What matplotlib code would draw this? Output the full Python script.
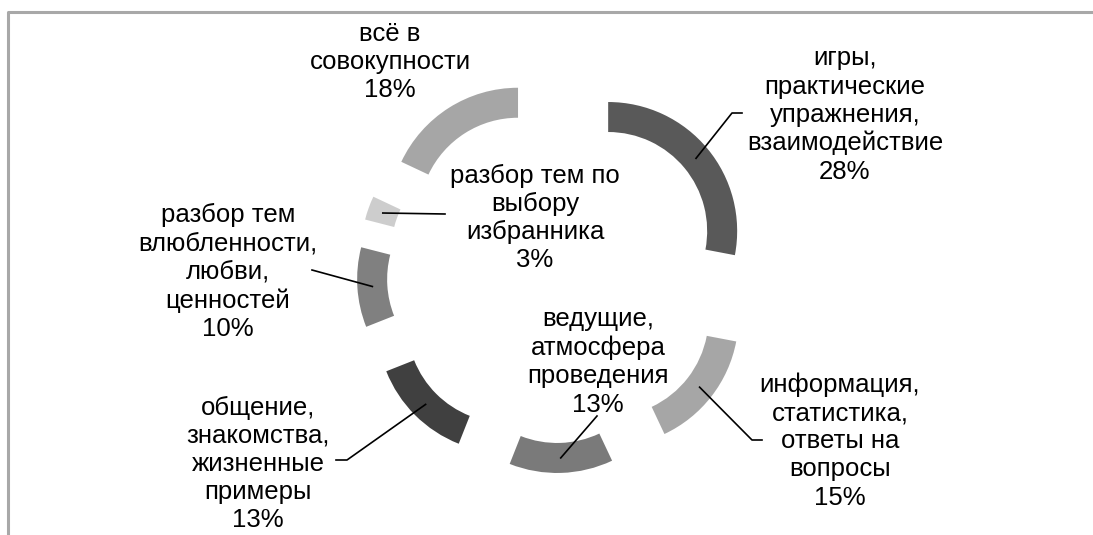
import numpy as np
import matplotlib.pyplot as plt
from matplotlib.patches import Wedge

plt.rcParams["font.family"] = ["Liberation Sans", "DejaVu Sans"]

# ── Data (clockwise from 12 o'clock) ─────────────────────────
labels = [
    "игры,\nпрактические\nупражнения,\nвзаимодействие",
    "информация,\nстатистика,\nответы на\nвопросы",
    "ведущие,\nатмосфера\nпроведения",
    "общение,\nзнакомства,\nжизненные\nпримеры",
    "разбор тем\nвлюбленности,\nлюбви,\nценностей",
    "разбор тем по\nвыбору\nизбранника",
    "всё в\nсовокупности",
]
values = [28, 15, 13, 13, 10, 3, 18]
colors = ["#595959", "#a6a6a6", "#7a7a7a", "#404040", "#808080", "#cdcdcd", "#a6a6a6"]

# label centres (pixels, y down) and leader elbows
label_pos = [(845, 115), (840, 441), (598, 362), (258, 464), (228, 272), (535, 218), (390, 62)]
leader_end = [[(732, 113), (742, 113)],
              [(752, 440), (762, 440)],
              [(597, 416)],
              [(347, 460), (336, 460)],
              [(312, 270)],
              [(445, 214)],
              None]

W, H = 1093, 535
cx, cy = 555, 275          # doughnut centre, pixels
R, ring, explode = 129, 30, 69

fig = plt.figure(figsize=(W / 100, H / 100), dpi=100)
ax = fig.add_axes([0, 0, 1, 1])
ax.set_xlim(0, W)
ax.set_ylim(0, H)
ax.set_aspect("equal")
ax.axis("off")

# chart frame (cropped at right and bottom)
ax.plot([8, 8, W + 5], [-5, H - 12, H - 12], color="#a8a8a8", lw=2.2, solid_capstyle="butt")

total = sum(values)
start = 0.0
for i, (lab, v, col) in enumerate(zip(labels, values, colors)):
    frac0, frac1 = start / total, (start + v) / total
    start += v
    a1 = 90 - frac0 * 360      # math angles
    a0 = 90 - frac1 * 360
    mid = np.radians((a0 + a1) / 2)
    ox = cx + explode * np.cos(mid)
    oy = (H - cy) + explode * np.sin(mid)
    ax.add_patch(Wedge((ox, oy), R, a0, a1, width=ring, facecolor=col, edgecolor="none"))

    tx, ty = label_pos[i]
    ax.text(tx, H - ty, f"{lab}\n{v}%", ha="center", va="center", fontsize=18.5,
            linespacing=1.22, color="black")

    if leader_end[i]:
        rm = R - ring / 2
        sx = ox + rm * np.cos(mid)
        sy = oy + rm * np.sin(mid)
        xs = [sx] + [p[0] for p in leader_end[i]]
        ys = [sy] + [H - p[1] for p in leader_end[i]]
        ax.plot(xs, ys, color="black", lw=1.2)

fig.savefig("out.png", dpi=100)
